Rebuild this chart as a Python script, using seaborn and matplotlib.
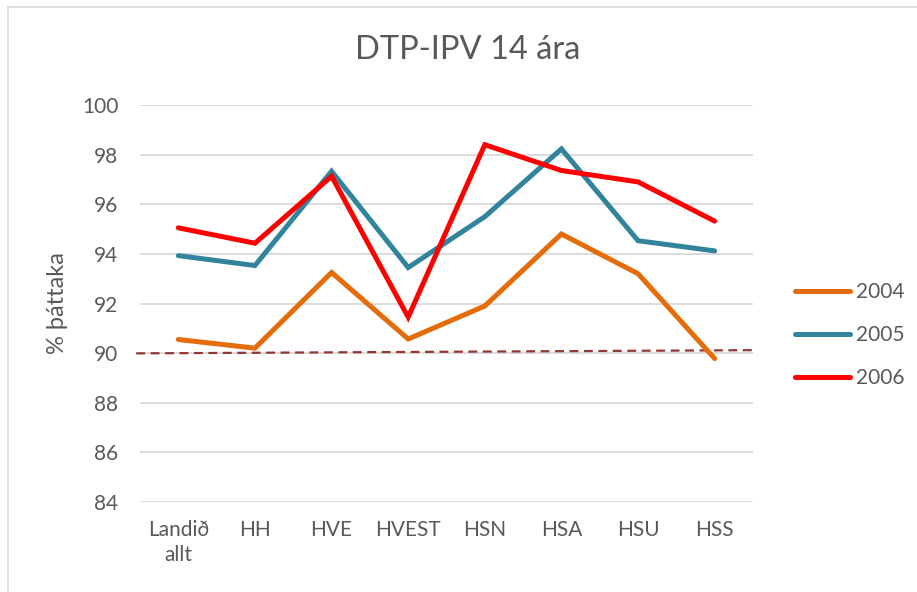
import matplotlib
matplotlib.use("Agg")
import matplotlib.pyplot as plt
import seaborn as sns
import pandas as pd
from matplotlib.lines import Line2D

categories = ["Landið\nallt", "HH", "HVE", "HVEST", "HSN", "HSA", "HSU", "HSS"]
years = ["2004", "2005", "2006"]
v2004 = [90.55, 90.2, 93.25, 90.57, 91.9, 94.8, 93.2, 89.78]
v2005 = [93.93, 93.53, 97.33, 93.45, 95.5, 98.23, 94.53, 94.12]
v2006 = [95.05, 94.43, 97.13, 91.45, 98.4, 97.36, 96.9, 95.32]
target = [89.99, 90.12]
yticks = [84, 86, 88, 90, 92, 94, 96, 98, 100]
title = "DTP-IPV 14 ára"
ylabel = "% þáttaka"

colors = {"2004": "#E46C0A", "2005": "#31849B", "2006": "#FF0000"}

sns.set_theme(style="white")
plt.rcParams["font.family"] = ["Lato", "DejaVu Sans"]
txt = "#595959"

rows = []
for yr, vals in zip(years, [v2004, v2005, v2006]):
    for i, (c, v) in enumerate(zip(categories, vals)):
        rows.append({"pos": i, "cat": c, "year": yr, "value": v})
df = pd.DataFrame(rows)

fig = plt.figure(figsize=(9.17, 5.92), dpi=100)
ax = fig.add_axes([140/917, 1-502/592, (753-140)/917, (502-105)/592])

sns.lineplot(data=df, x="pos", y="value", hue="year", palette=colors,
             linewidth=3.6, ax=ax, legend=False, sort=False,
             solid_capstyle="round", solid_joinstyle="miter")

ax.plot([-0.55, 7.55], target, linestyle=(0, (4, 2.5)), color="#943634",
        linewidth=1.6, zorder=1, clip_on=False)

ax.set_xlim(-0.5, 7.5)
ax.set_ylim(84, 100)
ax.set_yticks(yticks)
ax.set_yticklabels([str(t) for t in yticks], color=txt, fontsize=15)
ax.set_xticks(range(len(categories)))
ax.set_xticklabels(categories, color=txt, fontsize=15, linespacing=1.3, va="top")
ax.tick_params(axis="both", length=0)
ax.tick_params(axis="x", pad=13)
ax.tick_params(axis="y", pad=15.5)
ax.grid(axis="y", color="#d9d9d9", linewidth=1.3)
ax.set_axisbelow(True)
for s in ax.spines.values():
    s.set_visible(False)
ax.set_xlabel("")
ax.set_ylabel(ylabel, color=txt, fontsize=17, labelpad=10)

fig.text(468/917, 1-50/592, title, ha="center", va="center", color=txt, fontsize=23.5)

handles = [Line2D([0], [0], color=colors[y], linewidth=3.6, solid_capstyle="round") for y in years]
leg = fig.legend(handles, years, loc="upper left", bbox_to_anchor=(787/917, 1-274/592),
                 frameon=False, fontsize=15, handlelength=2.6, handletextpad=0.3,
                 labelspacing=1.1, borderaxespad=0)
for t in leg.get_texts():
    t.set_color(txt)

# chart border (left and top visible)
fig.add_artist(Line2D([7.5/917, 7.5/917], [0, 1-6/592], color="#d9d9d9", linewidth=1.2))
fig.add_artist(Line2D([7.5/917, 1], [1-6.5/592, 1-6.5/592], color="#d9d9d9", linewidth=1.2))

fig.savefig("out.png", dpi=100, facecolor="white")
